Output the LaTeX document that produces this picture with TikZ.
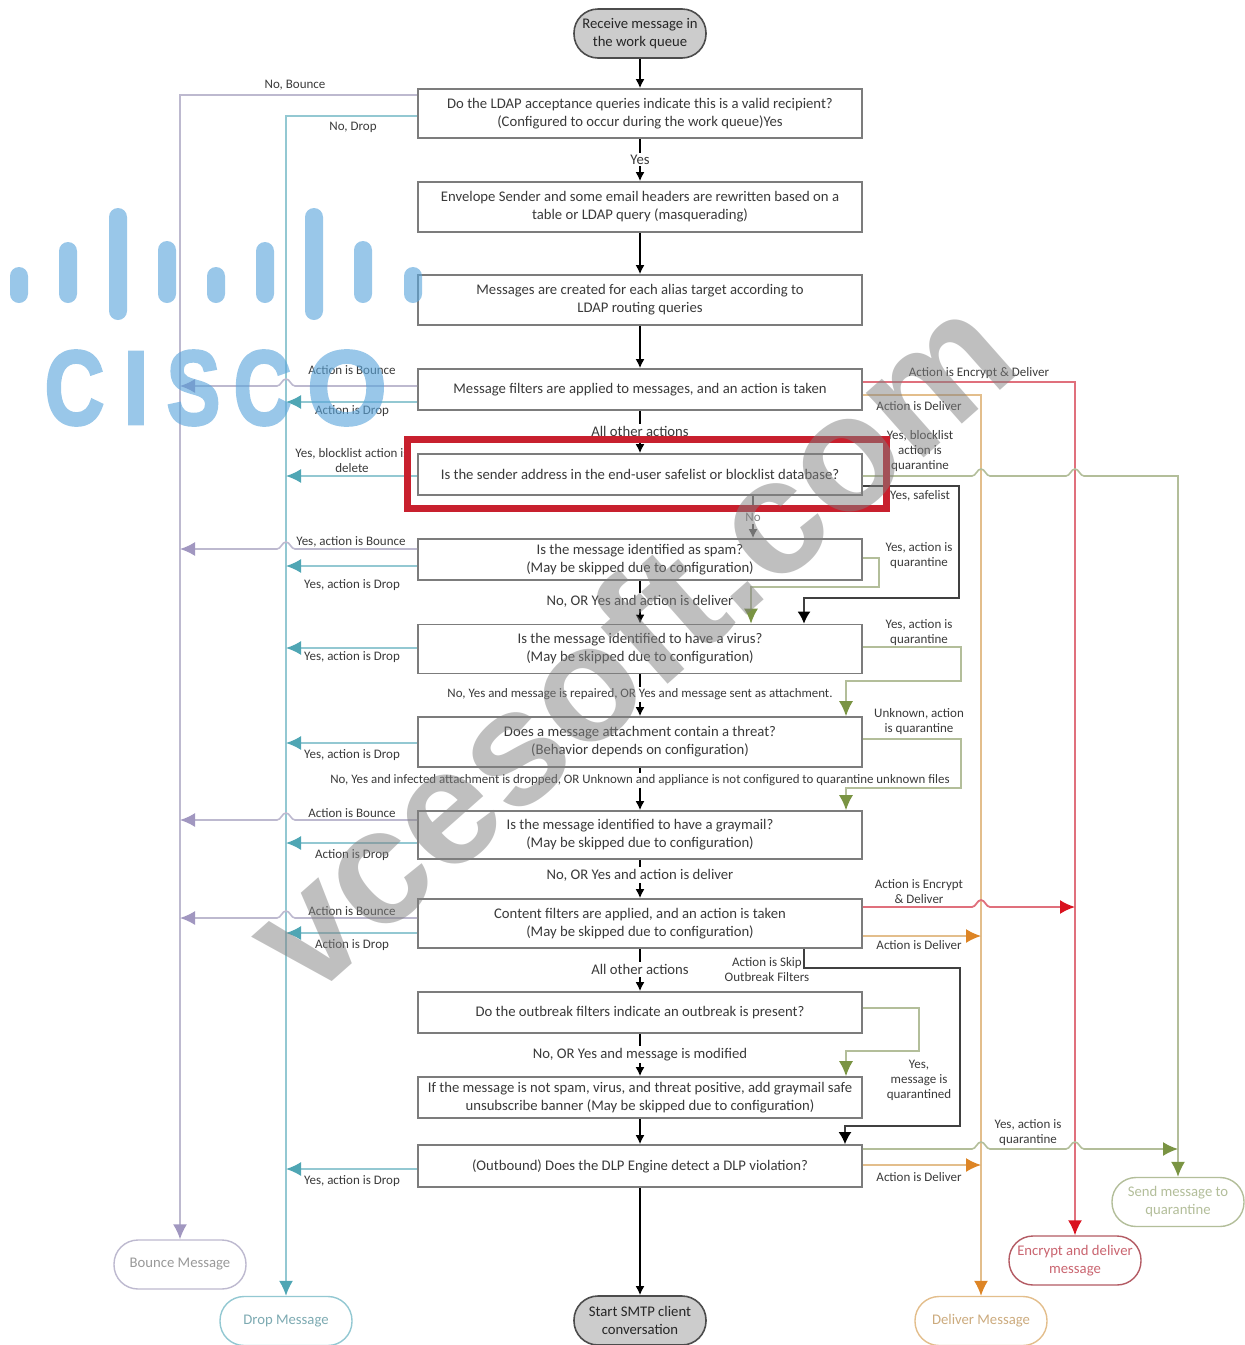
\documentclass[tikz,border=0pt]{standalone}
\usepackage{graphicx}
\usepackage{fontspec}
\setmainfont{Carlito}
\newfontfamily\wmfont{Liberation Sans}
\newfontfamily\logofont[FakeBold=2.5]{Liberation Sans}
\usetikzlibrary{arrows.meta,calc}
\definecolor{boxline}{HTML}{7C7C7C}
\definecolor{txt}{HTML}{3A3A3A}
\definecolor{bounceC}{HTML}{BDB9CF}
\definecolor{bounceT}{HTML}{A197C0}
\definecolor{dropC}{HTML}{93C8D2}
\definecolor{dropT}{HTML}{4FA6B4}
\definecolor{delivC}{HTML}{E3BE8C}
\definecolor{delivT}{HTML}{DD8526}
\definecolor{encC}{HTML}{E0707C}
\definecolor{encT}{HTML}{D9121F}
\definecolor{quarC}{HTML}{B3BE9A}
\definecolor{quarT}{HTML}{7A9443}
\definecolor{redbox}{HTML}{C8202E}
\definecolor{logoC}{HTML}{5AA5DB}
\tikzset{
  x=0.5pt,y=-0.5pt,
  mainbox/.style={draw=boxline,line width=0.8pt,fill=white,minimum width=222pt,inner sep=0pt,align=center,text=txt,font=\fontsize{7.35}{9}\selectfont},
  term/.style={draw=#1,line width=0.7pt,rounded corners=12pt,minimum width=66pt,minimum height=24.5pt,inner sep=0pt,align=center,fill=white,font=\fontsize{7.35}{9}\selectfont},
  startend/.style={draw=black!70,line width=0.8pt,rounded corners=12pt,minimum width=66pt,minimum height=24.5pt,inner sep=0pt,align=center,fill=black!20,text=black!85,font=\fontsize{7.35}{9}\selectfont},
  lab/.style={inner sep=0pt,yshift=-0.2pt,align=center,text=txt,font=\fontsize{6.5}{7.5}\selectfont},
  midlab/.style={inner sep=1pt,yshift=-0.2pt,align=center,fill=white,text=txt,font=\fontsize{7.35}{9}\selectfont},
  widelab/.style={inner sep=1pt,yshift=-0.2pt,align=center,fill=white,text=txt,font=\fontsize{6.45}{7.5}\selectfont},
  flow/.style={draw=black,line width=0.9pt,-{Latex[length=4.5pt,width=4.5pt]}},
  skipflow/.style={draw=black!75,line width=0.9pt,-{Latex[length=6pt,width=6.5pt,color=black]}},
  bounceL/.style={draw=bounceC,line width=0.8pt,-{Latex[length=7.5pt,width=7pt,color=bounceT]}},
  dropL/.style={draw=dropC,line width=0.8pt,-{Latex[length=7.5pt,width=7pt,color=dropT]}},
  delivL/.style={draw=delivC,line width=0.8pt,-{Latex[length=7.5pt,width=7pt,color=delivT]}},
  encL/.style={draw=encC,line width=0.9pt,-{Latex[length=7.5pt,width=7pt,color=encT]}},
  quarL/.style={draw=quarC,line width=0.8pt,-{Latex[length=7.5pt,width=7pt,color=quarT]}},
  logoletter/.style={inner sep=0pt,text=logoC,font=\logofont\bfseries},
}
\newcommand{\hopW}[2]{-- (#1+9,#2) .. controls (#1+5,#2) and (#1+4,#2-7) .. (#1,#2-7) .. controls (#1-4,#2-7) and (#1-5,#2) .. (#1-9,#2)}
\newcommand{\hopE}[2]{-- (#1-9,#2) .. controls (#1-5,#2) and (#1-4,#2-7) .. (#1,#2-7) .. controls (#1+4,#2-7) and (#1+5,#2) .. (#1+9,#2)}
\begin{document}
\begin{tikzpicture}
\useasboundingbox (0,0) rectangle (1245,1345);
% main column
\node[startend] (st) at (640,33.5) {Receive message in\\the work queue};
\node[mainbox,minimum height=24.5pt] (b1) at (640,113.5) {Do the LDAP acceptance queries indicate this is a valid recipient?\\(Configured to occur during the work queue)Yes};
\node[mainbox,minimum height=25pt] (b2) at (640,207) {Envelope Sender and some email headers are rewritten based on a\\table or LDAP query (masquerading)};
\node[mainbox,minimum height=25pt] (b3) at (640,300) {Messages are created for each alias target according to\\LDAP routing queries};
\node[mainbox,minimum height=20.5pt] (b4) at (640,389.5) {Message filters are applied to messages, and an action is taken};
\node[mainbox,minimum height=20.5pt] (b5) at (640,474.5) {Is the sender address in the end-user safelist or blocklist database?};
\node[mainbox,minimum height=20.5pt] (b6) at (640,559.5) {Is the message identified as spam?\\(May be skipped due to configuration)};
\node[mainbox,minimum height=24.5pt] (b7) at (640,649) {Is the message identified to have a virus?\\(May be skipped due to configuration)};
\node[mainbox,minimum height=25pt] (b8) at (640,742) {Does a message attachment contain a threat?\\(Behavior depends on configuration)};
\node[mainbox,minimum height=24pt] (b9) at (640,835) {Is the message identified to have a graymail?\\(May be skipped due to configuration)};
\node[mainbox,minimum height=24.5pt] (b10) at (640,923.5) {Content filters are applied, and an action is taken\\(May be skipped due to configuration)};
\node[mainbox,minimum height=20.5pt] (b11) at (640,1012.5) {Do the outbreak filters indicate an outbreak is present?};
\node[mainbox,minimum height=20.5pt] (b12) at (640,1097.5) {If the message is not spam, virus, and threat positive, add graymail safe\\unsubscribe banner (May be skipped due to configuration)};
\node[mainbox,minimum height=21pt] (b13) at (640,1166) {(Outbound) Does the DLP Engine detect a DLP violation?};
\node[startend] (en) at (640,1320.5) {Start SMTP client\\conversation};
% terminators
\node[term=bounceC,text=black!40] (bm) at (180,1264.5) {Bounce Message};
\node[term=dropC,text=dropC!85!black] (dm) at (286,1321) {Drop Message};
\node[term=delivC,text=delivC!90!black] (dv) at (981,1321) {Deliver Message};
\node[term=encC!80!black,text=encC!90!black] (ec) at (1075,1260.5) {Encrypt and deliver\\message};
\node[term=quarC,text=quarC] (qu) at (1178,1202) {Send message to\\quarantine};
% vertical flow
\draw[flow] (st) -- (b1);
\draw[flow] (b1) -- (b2);
\draw[flow] (b2) -- (b3);
\draw[flow] (b3) -- (b4);
\draw[flow] (b4) -- (b5);
\draw[flow] (b6) -- (b7);
\draw[flow] (b7) -- (b8);
\draw[flow] (b8) -- (b9);
\draw[flow] (b9) -- (b10);
\draw[flow] (b10) -- (b11);
\draw[flow] (b11) -- (b12);
\draw[flow] (b12) -- (b13);
\draw[flow] (b13) -- (en);
\draw[flow,draw=black!60] (b5.south -| 753,0) -- (b6.north -| 753,0);
% rails and left side
\draw[bounceL] (b1.west |- 0,95) -- (bm.north |- 0,95) -- (bm.north);
\draw[dropL] (b1.west |- 0,116) -- (dm.north |- 0,116) -- (dm.north);
\draw[bounceL] (b4.west |- 0,386) \hopW{286}{386} -- (bm.north |- 0,386);
\draw[dropL] (b4.west |- 0,402) -- (dm.north |- 0,402);
\draw[dropL] (b5.west) ++(0,1.5) -- (dm.north |- 0,476);
\draw[bounceL] (b6.west |- 0,549) \hopW{286}{549} -- (bm.north |- 0,549);
\draw[dropL] (b6.west |- 0,566) -- (dm.north |- 0,566);
\draw[dropL] (b7.west |- 0,648) -- (dm.north |- 0,648);
\draw[dropL] (b8.west |- 0,743) -- (dm.north |- 0,743);
\draw[bounceL] (b9.west |- 0,820) \hopW{286}{820} -- (bm.north |- 0,820);
\draw[dropL] (b9.west |- 0,843) -- (dm.north |- 0,843);
\draw[bounceL] (b10.west |- 0,918) \hopW{286}{918} -- (bm.north |- 0,918);
\draw[dropL] (b10.west |- 0,933) -- (dm.north |- 0,933);
\draw[dropL] (b13.west |- 0,1169) -- (dm.north |- 0,1169);
% rails right side
\draw[delivL] (b4.east |- 0,395) -- (dv.north |- 0,395) -- (dv.north);
\draw[encL] (b4.east |- 0,382) -- (ec.north |- 0,382) -- (ec.north);
\draw[quarL] (b5.east |- 0,476) \hopE{981}{476} \hopE{1075}{476} -- (qu.north |- 0,476) -- (qu.north);
\draw[skipflow] (b5.east |- 0,486) -- (959,486) -- (959,598) -- (804,598) -- (b7.north -| 804,0);
\draw[quarL] (b6.east |- 0,558) -- (879,558) -- (879,587) -- (751,587) -- (b7.north -| 751,0);
\draw[quarL] (b7.east |- 0,647) -- (961,647) -- (961,681) -- (846,681) -- (b8.north -| 846,0);
\draw[encL] (b10.east |- 0,907) \hopE{981}{907} -- (ec.north |- 0,907);
\draw[delivL] (b10.east |- 0,936) -- (dv.north |- 0,936);
\draw[skipflow] (b10.south -| 804,0) -- (804,968) -- (960,968) -- (960,1126) -- (845,1126) -- (b13.north -| 845,0);
\draw[quarL] (b11.east |- 0,1008) -- (919,1008) -- (919,1051) -- (846,1051) -- (b12.north -| 846,0);
\draw[quarL] (b13.east |- 0,1149) \hopE{981}{1149} \hopE{1075}{1149} -- (qu.north |- 0,1149);
\draw[delivL] (b13.east |- 0,1165) -- (dv.north |- 0,1165);
% labels
\node[lab] (l1) at (295,85) {No, Bounce};
\node[lab] (l2) at (353,127) {No, Drop};
\node[midlab] (l3) at (640,159) {Yes};
\node[lab] (l4) at (352,370) {Action is Bounce};
\node[lab] (l5) at (352,411) {Action is Drop};
\node[midlab] (l6) at (640,431) {All other actions};
\node[lab] (l7) at (352,460) {Yes, blocklist action is\\delete};
\node[lab] (l8) at (979,373) {Action is Encrypt \& Deliver};
\node[lab] (l9) at (919,406) {Action is Deliver};
\node[lab] (l10) at (920,451) {Yes, blocklist\\action is\\quarantine};
\node[lab] (l11) at (920,495) {Yes, safelist};
\node[lab,text=black!50,fill=white,inner sep=1pt] (l12) at (753,517) {No};
\node[lab] (l13) at (351,541) {Yes, action is Bounce};
\node[lab] (l14) at (352,585) {Yes, action is Drop};
\node[lab] (l15) at (919,555) {Yes, action is\\quarantine};
\node[midlab] (l16) at (640,601) {No, OR Yes and action is deliver};
\node[lab] (l17) at (352,657) {Yes, action is Drop};
\node[lab] (l18) at (919,632) {Yes, action is\\quarantine};
\node[widelab] (l19) at (640,694) {No, Yes and message is repaired, OR Yes and message sent as attachment.};
\node[lab] (l20) at (919,721) {Unknown, action\\is quarantine};
\node[lab] (l21) at (352,755) {Yes, action is Drop};
\node[widelab] (l22) at (640,780) {No, Yes and infected attachment is dropped, OR Unknown and appliance is not configured to quarantine unknown files};
\node[lab] (l23) at (352,813) {Action is Bounce};
\node[lab] (l24) at (352,855) {Action is Drop};
\node[midlab] (l25) at (640,875) {No, OR Yes and action is deliver};
\node[lab] (l26) at (919,891) {Action is Encrypt\\\& Deliver};
\node[lab] (l27) at (352,911) {Action is Bounce};
\node[lab] (l28) at (352,945) {Action is Drop};
\node[lab] (l29) at (919,945) {Action is Deliver};
\node[midlab] (l30) at (640,969) {All other actions};
\node[lab] (l31) at (767,969) {Action is Skip\\Outbreak Filters};
\node[midlab] (l32) at (640,1054) {No, OR Yes and message is modified};
\node[lab] (l33) at (919,1080) {Yes,\\message is\\quarantined};
\node[lab] (l34) at (1028,1132) {Yes, action is\\quarantine};
\node[lab] (l35) at (352,1181) {Yes, action is Drop};
\node[lab] (l36) at (919,1177) {Action is Deliver};
% drawn after the long label so that its white ground does not hide the line
\draw[quarL] (b8.east |- 0,739) -- (961,739) -- (961,788) -- (846,788) -- (b9.north -| 846,0);
% highlight
\draw[redbox,line width=3.5pt] (407.5,439.5) rectangle (886.5,508.5);
% cisco logo overlay
\begin{scope}[transparency group,opacity=.62]
\foreach \px/\ya/\yb in {19/276/294,68/251/294,118/217/311,167/250/294,216/276/294,265/251/294,314/217/311,363/250/294,413/276/294}
  \draw[logoC,line width=9pt,line cap=round] (\px,\ya) -- (\px,\yb);
\node[logoletter] (ca) at (74.5,388) {\resizebox{30pt}{37pt}{C}};
\node[logoletter] (cb) at (136,388) {\resizebox{13pt}{36pt}{I}};
\node[logoletter] (cc) at (193.5,388) {\resizebox{27pt}{37pt}{S}};
\node[logoletter] (cd) at (262.5,388) {\resizebox{29pt}{37pt}{C}};
\node[logoletter] (ce) at (347,388) {\resizebox{40pt}{37pt}{O}};
\end{scope}
% site overlay
\node[inner sep=0pt,rotate=41.5,text=black!50,opacity=.5,font=\wmfont\bfseries\fontsize{82}{82}\selectfont] (wm) at (628,642) {vcesoft.com};
\end{tikzpicture}
\end{document}
